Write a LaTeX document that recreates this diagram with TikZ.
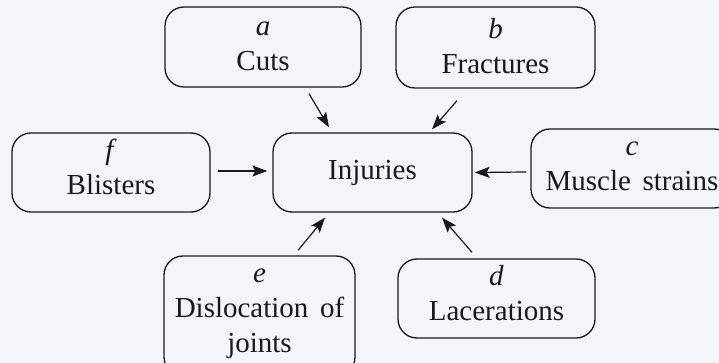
\documentclass[tikz,border=0pt]{standalone}
\usepackage{fontspec}
\setmainfont{Liberation Serif}
\usetikzlibrary{arrows.meta,calc}
\definecolor{bg}{RGB}{243,245,250}
\definecolor{ink}{RGB}{25,25,28}
\newcommand{\toplin}[2]{\rule{0pt}{#1pt}#2}
\newcommand{\botlin}[2]{#2\rule[-#1pt]{0pt}{#1pt}}
\begin{document}
\begin{tikzpicture}[x=1pt,y=-1pt,
  box/.style={draw=ink,line width=1.3pt,rounded corners=19pt,inner sep=0pt,align=center,
    font=\fontsize{29}{35}\selectfont,text=ink},
  arr/.style={draw=ink,line width=1.2pt,-{Stealth[length=15pt,width=11pt,inset=3pt]}}]
\useasboundingbox (0,0) rectangle (719,363);
\clip (0,0) rectangle (719,363);
\fill[bg] (0,0) rectangle (719,363);
\node[box,minimum width=196pt,minimum height=80pt] (a) at (263,47)
  {\toplin{25}{\textit{a}}\\\botlin{12}{Cuts}};
\node[box,minimum width=199pt,minimum height=81pt] (b) at (495.5,47.5)
  {\toplin{30}{\textit{b}}\\\botlin{12}{Fractures}};
\node[box,minimum width=199pt,minimum height=79pt] (inj) at (372.5,172.5) {Injuries};
\node[box,minimum width=198pt,minimum height=79pt] (f) at (111,172.5)
  {\toplin{19}{\textit{f}}\\\botlin{12}{Blisters}};
\node[box,minimum width=202pt,minimum height=79pt] (c) at (632,168.5)
  {\toplin{22}{\textit{c}}\\\botlin{12}{Muscle\hspace{0.4em}strains}};
\node[box,minimum width=191pt,minimum height=120pt] (e) at (259.5,316)
  {\toplin{20}{\textit{e}}\\Dislocation\hspace{0.4em}of\\\botlin{18}{joints}};
\node[box,minimum width=197pt,minimum height=79pt] (d) at (496.5,298.5)
  {\toplin{17}{\textit{d}}\\\botlin{12}{Lacerations}};
\draw[arr] ($(a.south)+(46,6)$) -- ($(inj.north)+(-43.5,-5)$);
\draw[arr] ($(b.south)+(-38.5,12)$) -- ($(inj.north)+(59.5,-3)$);
\draw[arr] ($(f.east)+(7,-1.5)$) -- ($(inj.west)+(-5,-1.5)$);
\draw[arr] ($(c.west)+(-4,3.5)$) -- ($(inj.east)+(2,0)$);
\draw[arr] ($(e.north)+(38.5,-5)$) -- ($(inj.south)+(-47.5,5)$);
\draw[arr] ($(d.north)+(-24.5,-6)$) -- ($(inj.south)+(69.5,5)$);
\end{tikzpicture}
\end{document}
